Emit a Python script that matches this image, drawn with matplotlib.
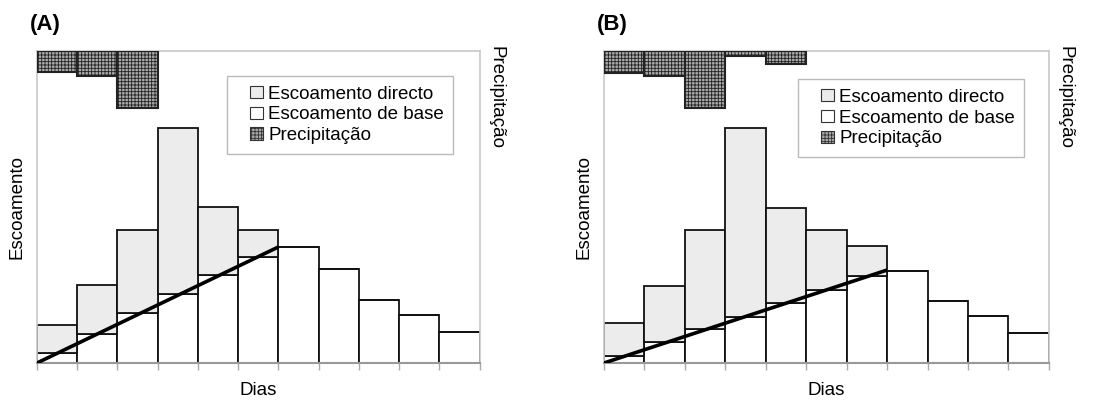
import matplotlib.pyplot as plt
from matplotlib.patches import Patch, Rectangle
from matplotlib.legend_handler import HandlerPatch
import matplotlib as mpl

plt.rcParams['font.family'] = ['Liberation Sans', 'DejaVu Sans']
mpl.rcParams['hatch.linewidth'] = 0.6

# dias (11 barras)
dias = list(range(11))

# (A)
total_a = [12.2, 25.0, 42.6, 75.3, 50.0, 42.6, 37.2, 30.0, 20.2, 15.4, 9.9]
base_a = [3.2, 9.3, 16.0, 22.0, 28.2, 34.0, 37.2, 30.0, 20.2, 15.4, 9.9]
prec_a = [6.7, 8.0, 18.3]
sep_x_a = [0, 6]
sep_y_a = [0, 37.2]

# (B)
total_b = [12.8, 24.7, 42.6, 75.3, 49.7, 42.6, 37.5, 29.5, 19.9, 15.0, 9.6]
base_b = [2.2, 6.7, 10.9, 14.7, 19.2, 23.4, 27.9, 29.5, 19.9, 15.0, 9.6]
prec_b = [7.0, 8.0, 18.3, 1.6, 4.2]
sep_x_b = [0, 7]
sep_y_b = [0, 29.8]

FS = 13.5


def quadrado(legend, orig_handle, xdescent, ydescent, width, height, fontsize):
    # small square at the right end of the handle box
    s = height * 0.95
    return Rectangle((-xdescent + width - s, -ydescent + (height - s) / 2), s, s)


def painel(fig, rect, letra, total, base, prec, sep_x, sep_y, leg_pos):
    ax = fig.add_axes(rect)
    direct = [t - b for t, b in zip(total, base)]
    ax.bar(dias, base, width=1, align='edge', color='white',
           edgecolor='#111111', linewidth=1.3, zorder=2)
    ax.bar(dias, direct, bottom=base, width=1, align='edge', color='#ececec',
           edgecolor='#111111', linewidth=1.3, zorder=2)
    ax.plot(sep_x, sep_y, color='black', linewidth=2.6, zorder=3,
            solid_capstyle='butt')
    ax.set_xlim(0, 11)
    ax.set_ylim(0, 100)
    ax.set_xticks(range(12))
    ax.set_xticklabels([])
    ax.set_yticks([])
    ax.tick_params(axis='x', length=5, color='#aaaaaa', width=1)
    for s in ['top', 'right', 'left']:
        ax.spines[s].set_color('#c8c8c8')
        ax.spines[s].set_linewidth(1.2)
    ax.spines['bottom'].set_color('#999999')
    ax.spines['bottom'].set_linewidth(1.5)
    ax.set_xlabel('Dias', fontsize=FS)
    ax.xaxis.set_label_coords(0.5, -0.062)
    ax.set_ylabel('Escoamento', fontsize=FS)
    ax.yaxis.set_label_coords(-0.026, 0.5)

    ax2 = ax.twinx()
    ax2.bar(list(range(len(prec))), prec, width=1, align='edge',
            color='#aaaaaa', edgecolor='#222222', hatch='+++++',
            linewidth=1.5, zorder=2)
    ax2.set_ylim(100, 0)
    ax2.set_yticks([])
    for s in ax2.spines.values():
        s.set_visible(False)
    ax2.set_ylabel('Precipitação', fontsize=FS, rotation=-90,
                   va='center', ha='center')
    ax2.yaxis.set_label_coords(1.037, 0.85)

    handles = [
        Patch(facecolor='#ececec', edgecolor='#333333', linewidth=0.8,
              label='Escoamento directo'),
        Patch(facecolor='white', edgecolor='#333333', linewidth=0.8,
              label='Escoamento de base'),
        Patch(facecolor='#aaaaaa', edgecolor='#333333', hatch='+++++',
              linewidth=0.8, label='Precipitação'),
    ]
    leg = ax2.legend(handles=handles, loc='upper left',
                     bbox_to_anchor=leg_pos, fontsize=FS,
                     handler_map={Patch: HandlerPatch(patch_func=quadrado)},
                     frameon=True, fancybox=False, framealpha=1,
                     handlelength=1.4, handleheight=0.7, handletextpad=0.3,
                     labelspacing=0.2, borderpad=0.5, borderaxespad=0)
    leg.get_frame().set_edgecolor('#bbbbbb')
    leg.get_frame().set_linewidth(1.0)

    fig.text(rect[0] - 0.006, 0.925, letra, fontsize=16, fontweight='bold',
             family=['Liberation Sans Narrow', 'Liberation Sans'])
    return ax


def main():
    fig = plt.figure(figsize=(11.12, 4.03), dpi=100)
    painel(fig, [0.0333, 0.0993, 0.398, 0.774], '(A)',
           total_a, base_a, prec_a, sep_x_a, sep_y_a, (0.429, 0.92))
    painel(fig, [0.5432, 0.0993, 0.400, 0.774], '(B)',
           total_b, base_b, prec_b, sep_x_b, sep_y_b, (0.436, 0.91))
    fig.savefig('out.png', dpi=100)


if __name__ == '__main__':
    main()
